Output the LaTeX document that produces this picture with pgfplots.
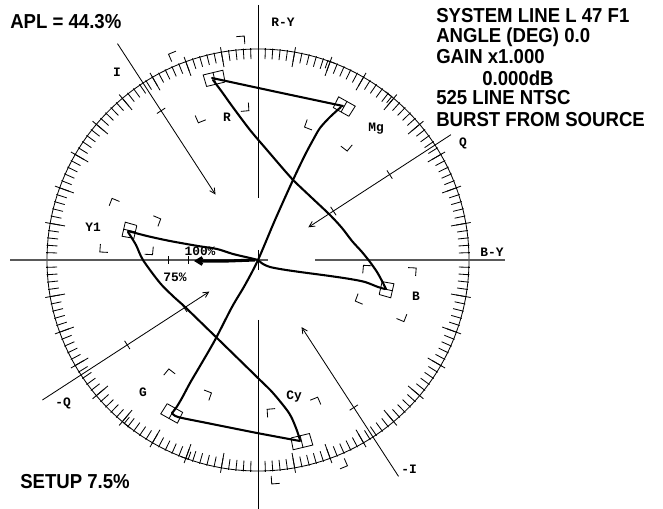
\documentclass[border=0pt]{standalone}
\usepackage{pgfplots}
\pgfplotsset{compat=1.18}
\usetikzlibrary{arrows.meta}
\usepackage{fontspec}
\setmainfont{Liberation Sans}
\newfontfamily\monof{Liberation Mono}
\newfontfamily\bigf[FakeStretch=0.92]{Liberation Sans}
\tikzset{
  grat/.style={black, line width=0.6pt},
  trace/.style={black, line width=1.5pt, line join=round, line cap=round, smooth, tension=0.5},
  lab/.style={font=\monof\bfseries\fontsize{9.3}{10}\selectfont, inner sep=0pt},
  big/.style={font=\bigf\bfseries\fontsize{14.6}{16}\selectfont, anchor=west, inner sep=0pt},
}
% graticule target: #1 angle (deg), #2 magnitude (px)
\newcommand{\tgt}[2]{%
 \pgfmathsetmacro\tgRi{0.8*#2}%
 \pgfmathsetmacro\tgRo{1.2*#2}%
 \pgfmathsetmacro\tgRia{\tgRi+8}%
 \pgfmathsetmacro\tgRoa{\tgRo-8}%
 \pgfmathsetmacro\tgA{#1+10}%
 \pgfmathsetmacro\tgB{#1-10}%
 \pgfmathsetmacro\tgAi{\tgA-458.4/\tgRi}%
 \pgfmathsetmacro\tgAo{\tgA-458.4/\tgRo}%
 \pgfmathsetmacro\tgBi{\tgB+458.4/\tgRi}%
 \pgfmathsetmacro\tgBo{\tgB+458.4/\tgRo}%
 \pgfmathsetmacro\tgSa{#1-3}%
 \pgfmathsetmacro\tgSb{#1+3}%
 \pgfmathsetmacro\tgRs{#2-6}%
 \pgfmathsetmacro\tgRt{#2+6}%
 \edef\tgTmp{%
  \noexpand\addplot[grat,data cs=polar,forget plot] coordinates {(\tgAo,\tgRo) (\tgA,\tgRo) (\tgA,\tgRoa)};%
  \noexpand\addplot[grat,data cs=polar,forget plot] coordinates {(\tgBo,\tgRo) (\tgB,\tgRo) (\tgB,\tgRoa)};%
  \noexpand\addplot[grat,data cs=polar,forget plot] coordinates {(\tgAi,\tgRi) (\tgA,\tgRi) (\tgA,\tgRia)};%
  \noexpand\addplot[grat,data cs=polar,forget plot] coordinates {(\tgBi,\tgRi) (\tgB,\tgRi) (\tgB,\tgRia)};%
  \noexpand\addplot[grat,data cs=polar,forget plot] coordinates {(\tgSa,\tgRs) (\tgSb,\tgRs) (\tgSb,\tgRt) (\tgSa,\tgRt) (\tgSa,\tgRs)};%
  \noexpand\addplot[grat,data cs=polar,forget plot] coordinates {(#1,\tgRs) (#1,\tgRt)};%
 }\tgTmp}
\begin{document}
\begin{tikzpicture}
\begin{axis}[name=ax, scale only axis, width=6.63in, height=5.09in,
  xmin=-258, xmax=405, ymin=-249, ymax=260, axis lines=none, ticks=none, clip=false]

% outer circle and ticks
\draw[grat] (axis cs:0,0) circle[radius=211];
\pgfplotsinvokeforeach{0,2,...,358}{\addplot[grat, data cs=polar, forget plot] coordinates {(#1,201) (#1,212)};}
\pgfplotsinvokeforeach{0,10,...,350}{\addplot[grat, data cs=polar, forget plot] coordinates {(#1,196) (#1,216)};}

% B-Y and R-Y axes
\addplot[black!65, line width=1.4pt, forget plot] coordinates {(-248,0) (10,0)};
\addplot[black!65, line width=1.4pt, forget plot] coordinates {(57,0) (247,0)};
\addplot[grat, forget plot] coordinates {(0,255) (0,62)};
\addplot[grat, forget plot] coordinates {(0,10) (0,-10)};
\addplot[grat, forget plot] coordinates {(0,-60) (0,-249)};
\addplot[grat, forget plot] coordinates {(-90,-4) (-90,4)};
\addplot[grat, forget plot] coordinates {(-70,-4) (-70,4)};

% I and Q axes
\addplot[grat, data cs=polar, forget plot, -{Straight Barb[length=4pt,width=4pt]}] coordinates {(123,258) (123,78)};
\addplot[grat, data cs=polar, forget plot, -{Straight Barb[length=4pt,width=4pt]}] coordinates {(303,258) (303,80)};
\addplot[grat, data cs=polar, forget plot, -{Straight Barb[length=4pt,width=4pt]}] coordinates {(33,230) (33,60)};
\addplot[grat, data cs=polar, forget plot, -{Straight Barb[length=4pt,width=4pt]}] coordinates {(213,257) (213,58)};
\addplot[grat, data cs=polar, forget plot] coordinates {(121.4,178) (124.6,178)};
\addplot[grat, data cs=polar, forget plot] coordinates {(301.4,176) (304.6,176)};
\addplot[grat, data cs=polar, forget plot] coordinates {(29.8,90) (36.2,90)};
\addplot[grat, data cs=polar, forget plot] coordinates {(31.2,157) (34.8,157)};
\addplot[grat, data cs=polar, forget plot] coordinates {(209.8,88) (216.2,88)};
\addplot[grat, data cs=polar, forget plot] coordinates {(211.2,156) (214.8,156)};

% targets
\tgt{103.5}{187}
\tgt{60.7}{176}
\tgt{347.1}{132}
\tgt{283.5}{187}
\tgt{240.7}{176}
\tgt{167.1}{132}

% vector trace
\addplot[trace, forget plot] coordinates {(-130,28) (-122,15) (-115,0) (-98,-23) (-83,-38) (-73,-47) (-39,-80) (2,-120) (15,-133) (31,-153) (38,-168) (42,-180)};
\addplot[trace, forget plot] coordinates {(42,-181) (-1,-173) (-51,-163) (-80,-157) (-86,-153)};
\addplot[trace, forget plot] coordinates {(-86,-153) (-82,-148) (-76,-138) (-68,-123) (-58,-106) (-43,-80) (-26,-47) (-13,-25) (0,0) (17,40) (35,80) (47,105) (55,120) (62,132) (72,143) (83,153)};
\addplot[trace, forget plot] coordinates {(85,154) (19,168) (-46,182)};
\addplot[trace, forget plot] coordinates {(-45,180) (-36,168) (-26,154) (-8,130) (9,110) (27,89) (35,80) (54,62) (72,45) (84,32) (94,19) (104,8) (112,-2) (119,-12) (124,-21) (128,-29)};
\addplot[trace, forget plot] coordinates {(127,-29) (120,-27) (107,-22) (92,-19) (72,-16) (42,-12) (25,-9.5) (12,-7) (5,-4) (0,0)};
\addplot[trace, forget plot] coordinates {(-130,29) (-111,24) (-88,19) (-60,14) (-41,11) (-25,6) (-8,2) (0,0)};
\addplot[black, line width=2.2pt, forget plot, -{Straight Barb[length=4pt,width=5pt]}] coordinates {(-3,0) (-30,-1) (-64,-1)};

% graticule labels
\node[lab] at (axis cs:25,238) {R-Y};
\node[lab] at (axis cs:234,8) {B-Y};
\node[lab] at (axis cs:-141,188) {I};
\node[lab] at (axis cs:205,117) {Q};
\node[lab] at (axis cs:-195,-143) {-Q};
\node[lab] at (axis cs:151,-209) {-I};
\node[lab] at (axis cs:-31,143) {R};
\node[lab] at (axis cs:118,131) {Mg};
\node[lab] at (axis cs:158,-36) {B};
\node[lab] at (axis cs:36,-137) {Cy};
\node[lab] at (axis cs:-115,-132) {G};
\node[lab] at (axis cs:-165,33) {Y1};
\node[lab] at (axis cs:-58,9) {100\%};
\node[lab] at (axis cs:-83,-17) {75\%};

% status text
\node[big] at (axis cs:-248,238) {APL = 44.3\%};
\node[big] at (axis cs:-238,-222) {SETUP 7.5\%};
\node[big] at (axis cs:178,244) {SYSTEM LINE L 47 F1};
\node[big] at (axis cs:178,223) {ANGLE (DEG) 0.0};
\node[big] at (axis cs:178,203) {GAIN x1.000};
\node[big] at (axis cs:224,182) {0.000dB};
\node[big] at (axis cs:178,162) {525 LINE NTSC};
\node[big] at (axis cs:178,140) {BURST FROM SOURCE};
\end{axis}
\pgfresetboundingbox
\path (ax.south west) rectangle (ax.north east);
\end{tikzpicture}
\end{document}
